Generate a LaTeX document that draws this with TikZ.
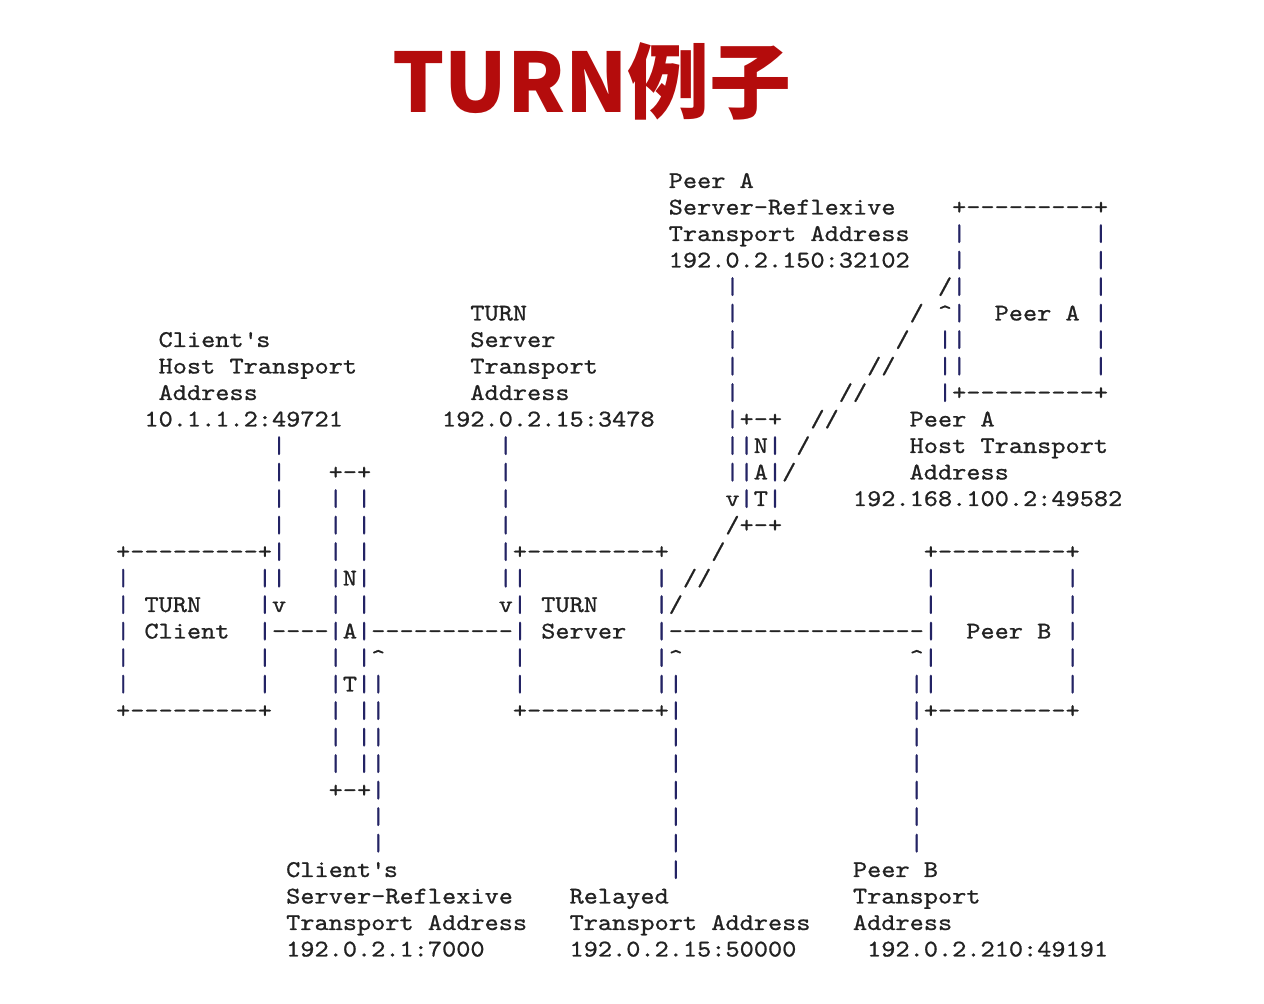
\documentclass[tikz,border=0pt]{standalone}
\usepackage{fontspec}
\usepackage{tikz}
\setmonofont{lmmono10-regular.otf}[FakeStretch=1.125, FakeBold=0.8]
\newfontfamily\cjkfont{Noto Sans CJK SC}

\definecolor{titlered}{RGB}{180,12,12}
\definecolor{asctext}{RGB}{34,34,34}
\definecolor{pipe}{RGB}{35,35,100}

% ASCII characters that need care
\newcommand{\vb}{\textcolor{pipe}{|}}
\newcommand{\caret}{\textasciicircum}
\newcommand{\apos}{\textquotesingle}

\tikzset{
  ascii/.style={anchor=base west, inner sep=0pt, text=asctext,
    font=\fontsize{24}{24}\selectfont\ttfamily},
  title/.style={anchor=base, inner sep=0pt, text=titlered,
    font=\fontsize{82}{82}\selectfont\cjkfont\bfseries}
}
% one run of characters at column #1, row #2
\newcommand{\asc}[3]{\node[ascii] (r#2c#1) at ({14.17*#1+73.4},{816-26.5*#2}) {#3};}

\begin{document}
\begin{tikzpicture}[x=1pt, y=1pt]
	\useasboundingbox[fill=white] (0,0) rectangle (1264,1004);

	% Title
	\node[title] (head) at (592,891) {TURN例子};

	% Peer A server-reflexive address and Peer A box
	\asc{42}{0}{Peer A}
	\asc{42}{1}{Server-Reflexive} \asc{62}{1}{+---------+}
	\asc{42}{2}{Transport Address} \asc{62}{2}{\vb} \asc{72}{2}{\vb}
	\asc{42}{3}{192.0.2.150:32102} \asc{62}{3}{\vb} \asc{72}{3}{\vb}
	\asc{46}{4}{\vb} \asc{61}{4}{/\vb} \asc{72}{4}{\vb}
	\asc{28}{5}{TURN} \asc{46}{5}{\vb} \asc{59}{5}{/} \asc{61}{5}{\caret\vb} \asc{65}{5}{Peer A} \asc{72}{5}{\vb}
	\asc{6}{6}{Client\apos s} \asc{28}{6}{Server} \asc{46}{6}{\vb} \asc{58}{6}{/} \asc{61}{6}{\vb\vb} \asc{72}{6}{\vb}
	\asc{6}{7}{Host Transport} \asc{28}{7}{Transport} \asc{46}{7}{\vb} \asc{56}{7}{//} \asc{61}{7}{\vb\vb} \asc{72}{7}{\vb}
	\asc{6}{8}{Address} \asc{28}{8}{Address} \asc{46}{8}{\vb} \asc{54}{8}{//} \asc{61}{8}{\vb+---------+}

	% Host addresses and the NAT in front of Peer A
	\asc{5}{9}{10.1.1.2:49721} \asc{26}{9}{192.0.2.15:3478} \asc{46}{9}{\vb+-+} \asc{52}{9}{//} \asc{59}{9}{Peer A}
	\asc{14}{10}{\vb} \asc{30}{10}{\vb} \asc{46}{10}{\vb\vb N\vb} \asc{51}{10}{/} \asc{59}{10}{Host Transport}
	\asc{14}{11}{\vb} \asc{18}{11}{+-+} \asc{30}{11}{\vb} \asc{46}{11}{\vb\vb A\vb/} \asc{59}{11}{Address}
	\asc{14}{12}{\vb} \asc{18}{12}{\vb} \asc{20}{12}{\vb} \asc{30}{12}{\vb} \asc{46}{12}{v\vb T\vb} \asc{55}{12}{192.168.100.2:49582}
	\asc{14}{13}{\vb} \asc{18}{13}{\vb} \asc{20}{13}{\vb} \asc{30}{13}{\vb} \asc{46}{13}{/+-+}

	% TURN Client, client NAT, TURN Server, Peer B
	\asc{3}{14}{+---------+\vb} \asc{18}{14}{\vb} \asc{20}{14}{\vb} \asc{30}{14}{\vb+---------+} \asc{45}{14}{/} \asc{60}{14}{+---------+}
	\asc{3}{15}{\vb} \asc{13}{15}{\vb\vb} \asc{18}{15}{\vb N\vb} \asc{30}{15}{\vb\vb} \asc{41}{15}{\vb} \asc{43}{15}{//} \asc{60}{15}{\vb} \asc{70}{15}{\vb}
	\asc{3}{16}{\vb} \asc{5}{16}{TURN} \asc{13}{16}{\vb v} \asc{18}{16}{\vb} \asc{20}{16}{\vb} \asc{30}{16}{v\vb} \asc{33}{16}{TURN} \asc{41}{16}{\vb/} \asc{60}{16}{\vb} \asc{70}{16}{\vb}
	\asc{3}{17}{\vb} \asc{5}{17}{Client} \asc{13}{17}{\vb----\vb A\vb----------\vb} \asc{33}{17}{Server} \asc{41}{17}{\vb------------------\vb} \asc{63}{17}{Peer B} \asc{70}{17}{\vb}
	\asc{3}{18}{\vb} \asc{13}{18}{\vb} \asc{18}{18}{\vb} \asc{20}{18}{\vb\caret} \asc{31}{18}{\vb} \asc{41}{18}{\vb\caret} \asc{59}{18}{\caret\vb} \asc{70}{18}{\vb}
	\asc{3}{19}{\vb} \asc{13}{19}{\vb} \asc{18}{19}{\vb T\vb\vb} \asc{31}{19}{\vb} \asc{41}{19}{\vb\vb} \asc{59}{19}{\vb\vb} \asc{70}{19}{\vb}
	\asc{3}{20}{+---------+} \asc{18}{20}{\vb} \asc{20}{20}{\vb\vb} \asc{31}{20}{+---------+\vb} \asc{59}{20}{\vb+---------+}
	\asc{18}{21}{\vb} \asc{20}{21}{\vb\vb} \asc{42}{21}{\vb} \asc{59}{21}{\vb}
	\asc{18}{22}{\vb} \asc{20}{22}{\vb\vb} \asc{42}{22}{\vb} \asc{59}{22}{\vb}
	\asc{18}{23}{+-+\vb} \asc{42}{23}{\vb} \asc{59}{23}{\vb}
	\asc{21}{24}{\vb} \asc{42}{24}{\vb} \asc{59}{24}{\vb}
	\asc{21}{25}{\vb} \asc{42}{25}{\vb} \asc{59}{25}{\vb}

	% Reflexive, relayed and peer addresses
	\asc{15}{26}{Client\apos s} \asc{42}{26}{\vb} \asc{55}{26}{Peer B}
	\asc{15}{27}{Server-Reflexive} \asc{35}{27}{Relayed} \asc{55}{27}{Transport}
	\asc{15}{28}{Transport Address} \asc{35}{28}{Transport Address} \asc{55}{28}{Address}
	\asc{15}{29}{192.0.2.1:7000} \asc{35}{29}{192.0.2.15:50000} \asc{56}{29}{192.0.2.210:49191}
\end{tikzpicture}
\end{document}
